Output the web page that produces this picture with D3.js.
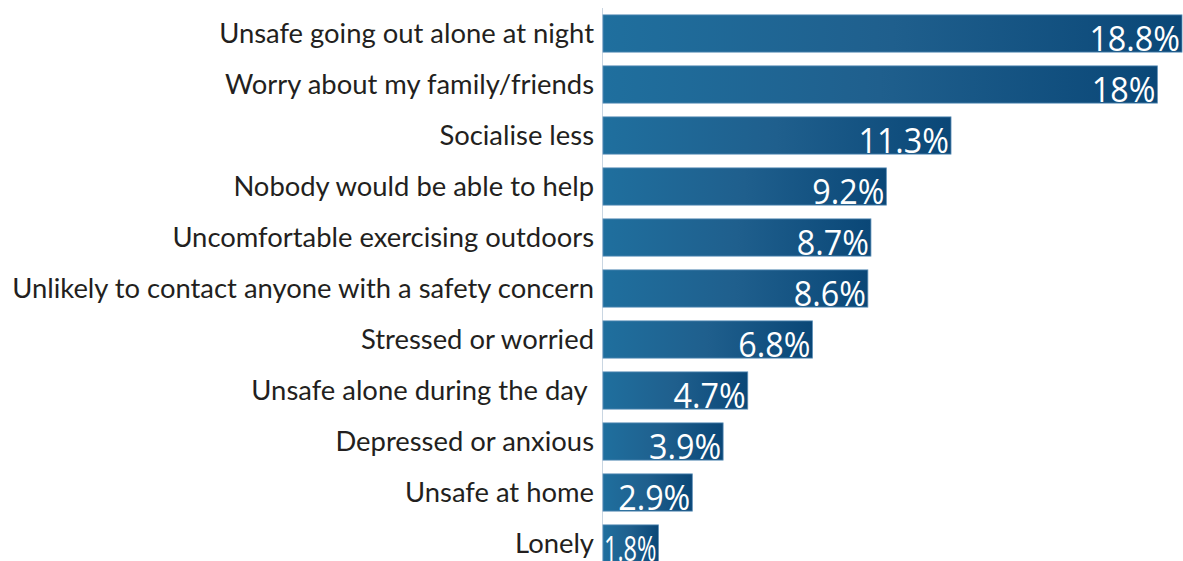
<!DOCTYPE html>
<html>
<head>
<meta charset="utf-8">
<script src="https://cdn.jsdelivr.net/npm/d3@7"></script>
<style>
  html, body { margin: 0; padding: 0; background: #fff; }
  svg { display: block; }
</style>
</head>
<body>
<svg id="chart" width="1183" height="561"></svg>
<script>
// Reasons people feel unsafe, share of respondents (%)
const categories = [
  "Unsafe going out alone at night",
  "Worry about my family/friends",
  "Socialise less",
  "Nobody would be able to help",
  "Uncomfortable exercising outdoors",
  "Unlikely to contact anyone with a safety concern",
  "Stressed or worried",
  "Unsafe alone during the day ",
  "Depressed or anxious",
  "Unsafe at home",
  "Lonely"
];
const values = [18.8, 18, 11.3, 9.2, 8.7, 8.6, 6.8, 4.7, 3.9, 2.9, 1.8];
const valueLabels = ["18.8%", "18%", "11.3%", "9.2%", "8.7%", "8.6%", "6.8%", "4.7%", "3.9%", "2.9%", "1.8%"];

const rows = categories.map((c, i) => ({ id: i, category: c, value: values[i], label: valueLabels[i] }));

const svg = d3.select("#chart");
const axisX = 603;

const x = d3.scaleLinear().domain([0, 18.8]).range([axisX, 1182]);
const y = d3.scaleBand()
  .domain(rows.map(d => d.id))
  .range([8, 569])
  .paddingInner(0.27)
  .paddingOuter(0.135);

const defs = svg.append("defs");
const grad = defs.append("linearGradient")
  .attr("id", "barGrad")
  .attr("x1", "0%").attr("x2", "100%")
  .attr("y1", "0%").attr("y2", "0%");
grad.append("stop").attr("offset", "0%").attr("stop-color", "#1f6f9e");
grad.append("stop").attr("offset", "50%").attr("stop-color", "#1f5f8d");
grad.append("stop").attr("offset", "100%").attr("stop-color", "#0a4777");

// clip each value label to its own bar
defs.selectAll("clipPath")
  .data(rows)
  .join("clipPath")
  .attr("id", d => "clip" + d.id)
  .append("rect")
  .attr("x", x(0))
  .attr("y", d => y(d.id))
  .attr("width", d => x(d.value) - x(0))
  .attr("height", y.bandwidth());

// vertical baseline
svg.append("line")
  .attr("x1", axisX - 0.5).attr("x2", axisX - 0.5)
  .attr("y1", 8).attr("y2", 561)
  .attr("stroke", "#c9d6e2")
  .attr("stroke-width", 1);

// bars
svg.append("g")
  .selectAll("rect")
  .data(rows)
  .join("rect")
  .attr("x", x(0))
  .attr("y", d => y(d.id))
  .attr("width", d => x(d.value) - x(0))
  .attr("height", y.bandwidth())
  .attr("fill", "url(#barGrad)")
  .attr("stroke", "#5b8fb8")
  .attr("stroke-width", 0.8);

// value labels inside bars, slightly condensed and squeezed to fit short bars
const valueText = svg.append("g")
  .selectAll("text")
  .data(rows)
  .join("text")
  .attr("clip-path", d => "url(#clip" + d.id + ")")
  .attr("x", d => x(d.value) - 2)
  .attr("y", d => y(d.id) + y.bandwidth() - 1)
  .attr("text-anchor", "end")
  .attr("fill", "#ffffff")
  .style("font-family", "'Open Sans', 'Noto Sans', sans-serif")
  .style("font-size", "34px")
  .text(d => d.label);

valueText.each(function(d) {
  const natural = this.getComputedTextLength();
  const room = x(d.value) - x(0) - 3;
  const w = Math.min(natural * 0.95, room);
  d3.select(this)
    .attr("textLength", w)
    .attr("lengthAdjust", "spacingAndGlyphs");
});

// category labels
svg.append("g")
  .selectAll("text")
  .data(rows)
  .join("text")
  .attr("x", axisX - 9)
  .attr("y", d => y(d.id) + y.bandwidth() / 2)
  .attr("dy", "0.35em")
  .attr("text-anchor", "end")
  .attr("fill", "#231f20")
  .style("font-family", "Lato, 'Open Sans', sans-serif")
  .style("font-size", "27.4px")
  .style("white-space", "pre")
  .text(d => d.category);
</script>
</body>
</html>
